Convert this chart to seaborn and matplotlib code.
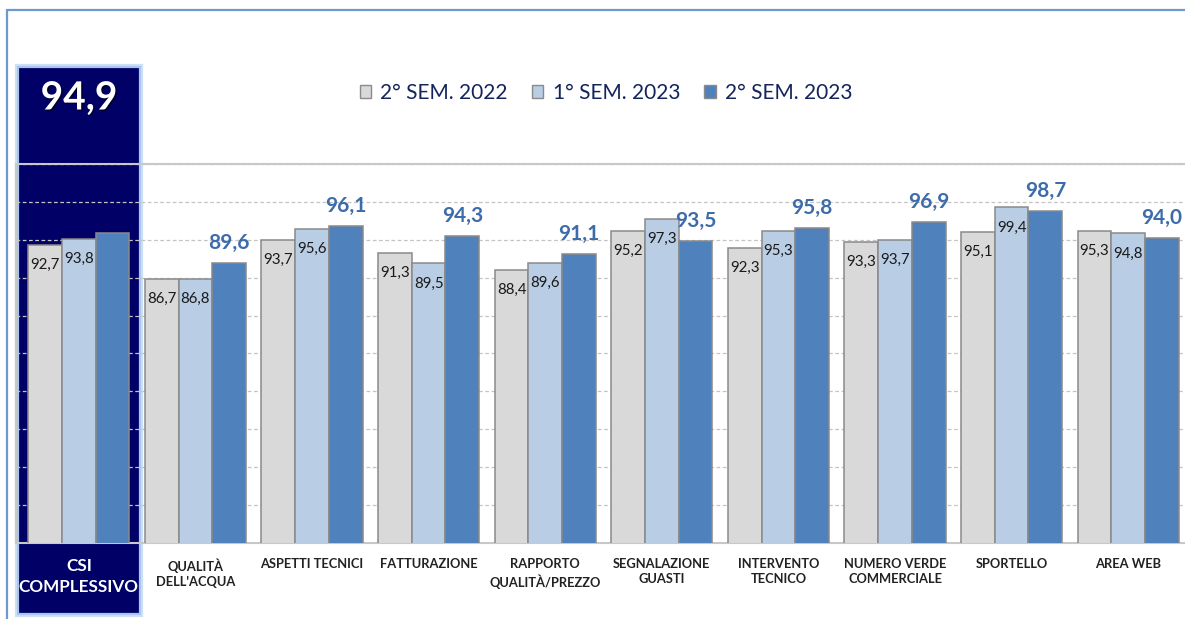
import matplotlib
matplotlib.use("Agg")
import matplotlib.pyplot as plt
import matplotlib.patheffects as pe
from matplotlib.patches import Rectangle, Patch
from matplotlib.lines import Line2D
from matplotlib.ticker import LinearLocator
import seaborn as sns
import pandas as pd

categories = ["CSI\nCOMPLESSIVO", "QUALITÀ\nDELL'ACQUA", "ASPETTI TECNICI", "FATTURAZIONE",
              "RAPPORTO\nQUALITÀ/PREZZO", "SEGNALAZIONE\nGUASTI", "INTERVENTO\nTECNICO",
              "NUMERO VERDE\nCOMMERCIALE", "SPORTELLO", "AREA WEB"]
series_names = ["2° SEM. 2022", "1° SEM. 2023", "2° SEM. 2023"]
sem2_2022 = [92.7, 86.7, 93.7, 91.3, 88.4, 95.2, 92.3, 93.3, 95.1, 95.3]
sem1_2023 = [93.8, 86.8, 95.6, 89.5, 89.6, 97.3, 95.3, 93.7, 99.4, 94.8]
sem2_2023 = [94.9, 89.6, 96.1, 94.3, 91.1, 93.5, 95.8, 96.9, 98.7, 94.0]
colors = ["#d9d9d9", "#b9cde5", "#4f81bd"]

fmt = lambda v: f"{v:.1f}".replace(".", ",")

df = pd.DataFrame({
    "cat": categories * 3,
    "series": [series_names[0]] * 10 + [series_names[1]] * 10 + [series_names[2]] * 10,
    "val": sem2_2022 + sem1_2023 + sem2_2023,
})

sns.set_theme(style="white")
plt.rcParams["font.family"] = ["Lato", "DejaVu Sans"]

W, H = 1185, 619
fig = plt.figure(figsize=(W / 100, H / 100), dpi=100)

# navy highlight panel (behind axes) with soft light-blue glow
px0, px1, py0, py1 = 18, 140, 67, 614
glow = Rectangle((px0 / W, 1 - py1 / H), (px1 - px0) / W, (py1 - py0) / H,
                 transform=fig.transFigure, facecolor="none",
                 edgecolor="#cfe0f6", linewidth=4.5, zorder=-3)
fig.patches.append(glow)
panel = Rectangle((px0 / W, 1 - py1 / H), (px1 - px0) / W, (py1 - py0) / H,
                  transform=fig.transFigure, facecolor="#000066",
                  edgecolor="#a8c7ee", linewidth=1.6, zorder=-2)
fig.patches.append(panel)

# outer frame lines
fig.add_artist(Line2D([7 / W, 7 / W], [0, 1 - 10 / H], transform=fig.transFigure,
                      color="#6d99cf", lw=1.6, zorder=-4))
fig.add_artist(Line2D([7 / W, 1], [1 - 10 / H, 1 - 10 / H], transform=fig.transFigure,
                      color="#6d99cf", lw=1.6, zorder=-4))

ax_l, ax_r, ax_t, ax_b = 16, 1185, 164, 543
ax = fig.add_axes([ax_l / W, 1 - ax_b / H, (ax_r - ax_l) / W, (ax_b - ax_t) / H])
ax.set_facecolor("none")

sns.barplot(data=df, x="cat", y="val", hue="series", palette=colors, saturation=1,
            width=0.867, gap=0, edgecolor="#8a8a8a", linewidth=1.1, ax=ax,
            legend=False, zorder=3)

ax.set_ylim(40, 107.1)
ax.set_xlim(-0.539, 9.487)
ax.yaxis.set_major_locator(LinearLocator(11))
ax.grid(axis="y", color="#c4c4c4", linestyle=(0, (3, 2)), linewidth=0.9, zorder=0)
ax.set_axisbelow(True)
ax.set_yticklabels([])
ax.tick_params(axis="y", length=0)
ax.tick_params(axis="x", length=0, pad=11)
ax.set_xlabel("")
ax.set_ylabel("")
for side in ["left", "bottom", "top"]:
    ax.spines[side].set_visible(True)
    ax.spines[side].set_color("#c8c8c8")
    ax.spines[side].set_linewidth(1.5)
ax.spines["right"].set_visible(False)

ax.set_xticks(range(len(categories)))
ax.set_xticklabels(categories, fontsize=9.3, fontweight="bold", color="#222222",
                   linespacing=1.3, va="top")
lab0 = ax.get_xticklabels()[0]
lab0.set_color("white")
lab0.set_fontsize(12.3)
lab0.set_linespacing(1.4)

# value labels
for si, cont in enumerate(ax.containers):
    for ci, bar in enumerate(cont):
        x = bar.get_x() + bar.get_width() / 2
        v = bar.get_height()
        if si < 2:
            ax.annotate(fmt(v), xy=(x, v), xytext=(0, -20 * 0.72), textcoords="offset points",
                        ha="center", va="center", fontsize=10.8, color="#1a1a1a", zorder=5)
        elif ci > 0:
            ax.annotate(fmt(v), xy=(x, v), xytext=(0, 20 * 0.72), textcoords="offset points",
                        ha="center", va="center", fontsize=15, fontweight="bold",
                        color="#3d6cab", zorder=5)

# big CSI value in the panel
fig.text(79 / W, 1 - 98 / H, fmt(sem2_2023[0]), ha="center", va="center",
         fontsize=28, fontweight="bold", color="white",
         path_effects=[pe.withSimplePatchShadow(offset=(1, -1), shadow_rgbFace="#000000", alpha=0.6)])

# legend
handles = [Patch(facecolor=c, edgecolor="#8a8a8a", linewidth=1.0) for c in colors]
fig.legend(handles, series_names, loc="center", bbox_to_anchor=(606 / W, 1 - 93 / H),
           ncol=3, frameon=False, fontsize=15, labelcolor="#14245c",
           handlelength=0.55, handleheight=0.55, handletextpad=0.45, columnspacing=1.15)

fig.savefig("out.png", dpi=100)
